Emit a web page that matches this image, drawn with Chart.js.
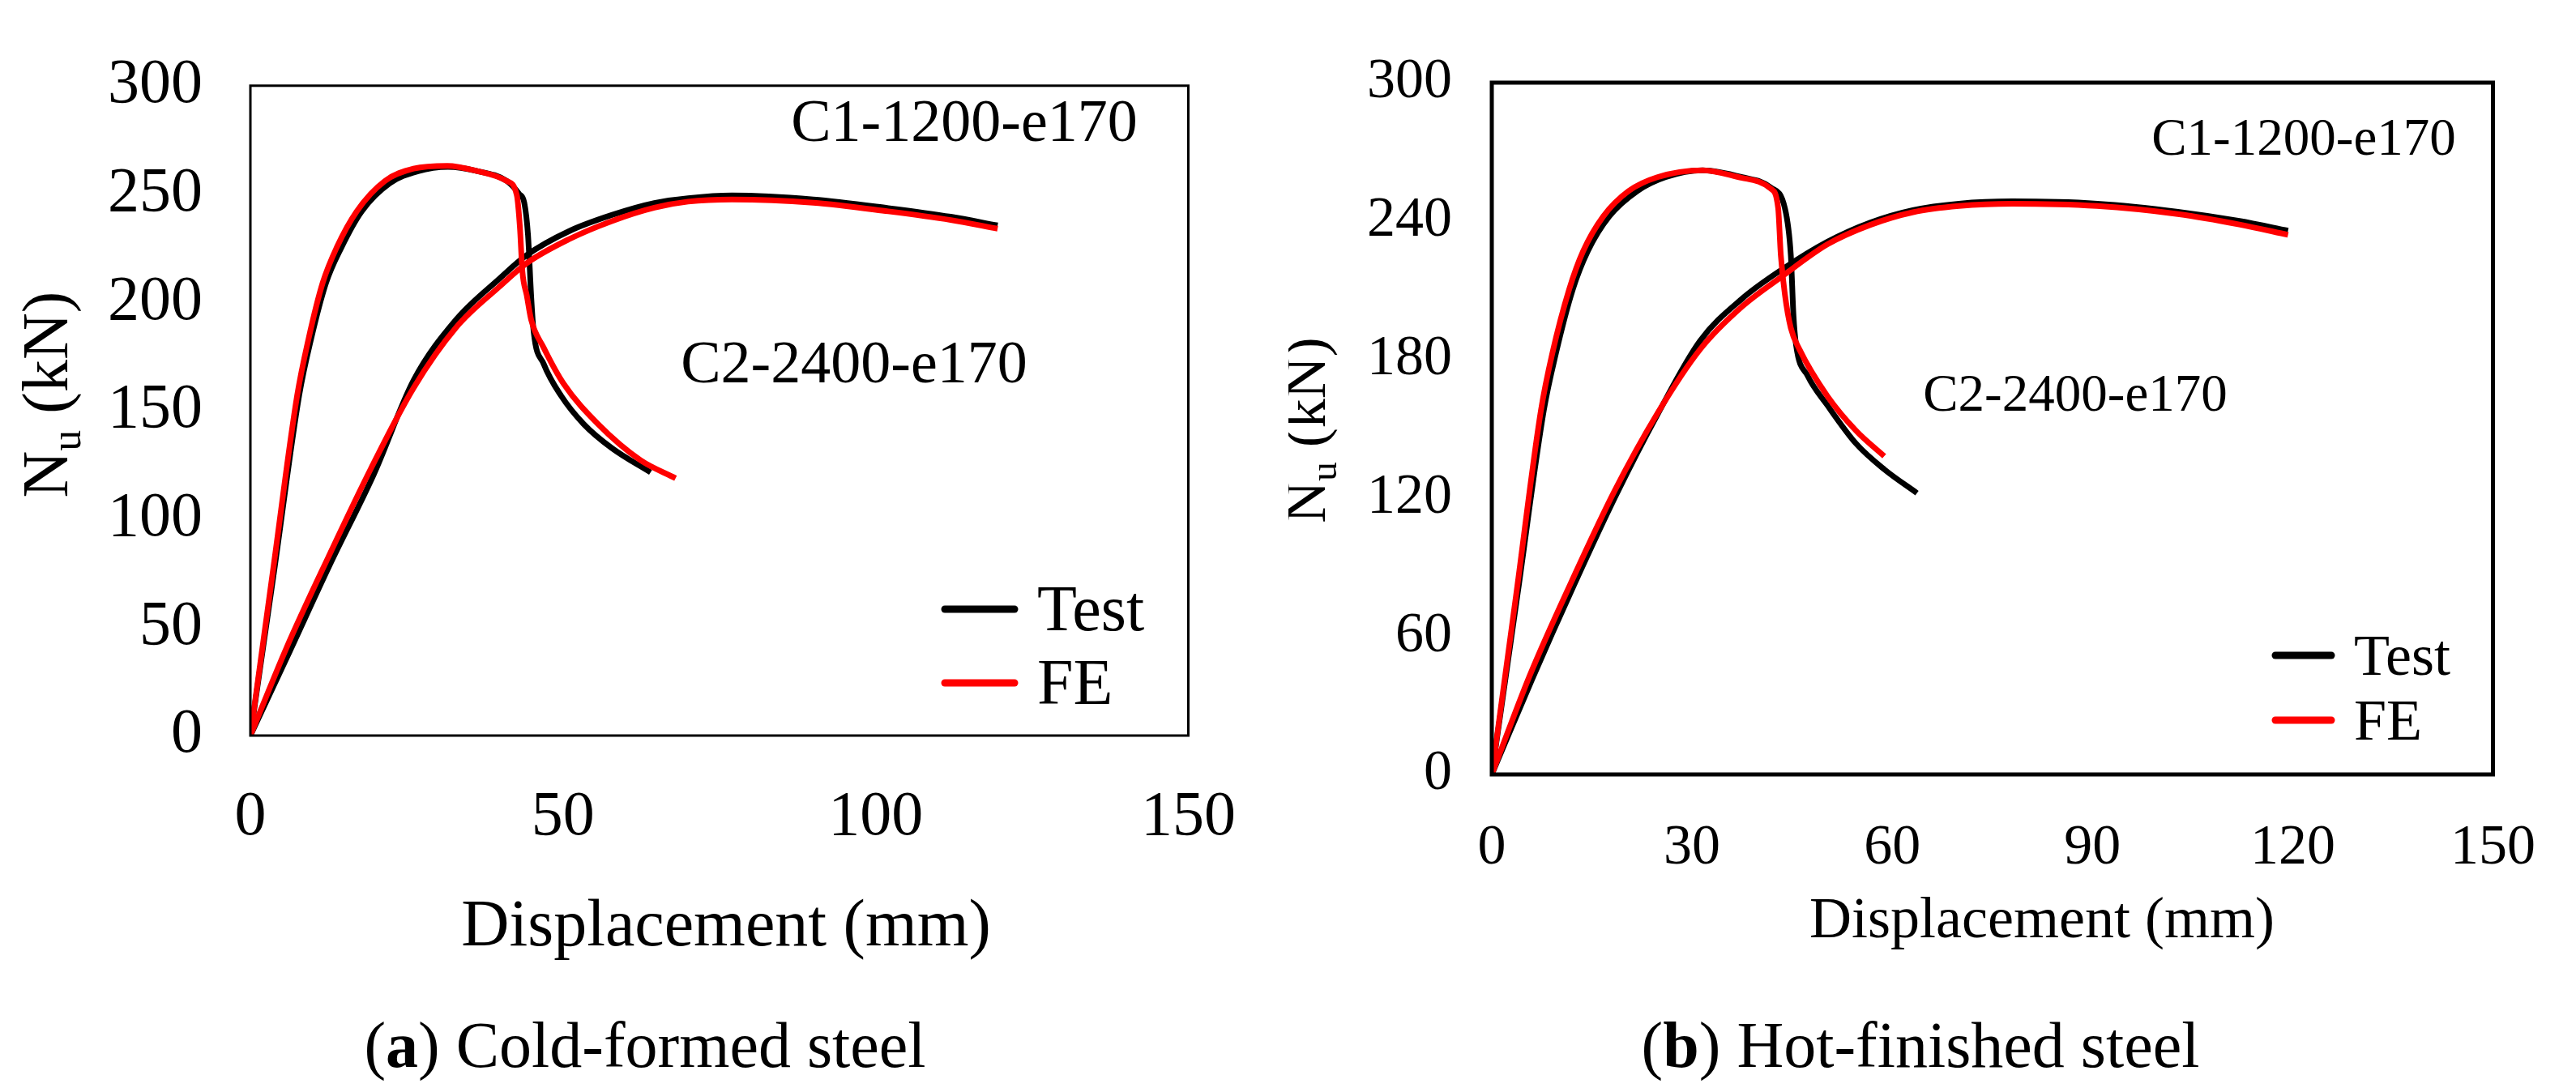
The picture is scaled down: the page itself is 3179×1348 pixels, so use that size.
<!DOCTYPE html>
<html>
<head>
<meta charset="utf-8">
<title>Nu - displacement curves</title>
<script src="https://cdn.jsdelivr.net/npm/chart.js@4.4.1/dist/chart.umd.min.js"></script>
<style>
  html, body { margin: 0; padding: 0; background: #fff; }
  body { width: 3179px; height: 1348px; position: relative; overflow: hidden;
         font-family: "Liberation Serif", "Times New Roman", serif; color: #000; }
  canvas { position: absolute; top: 0; }
  #chartA { left: 0; }
  #chartB { left: 1590px; }
  .caption { position: absolute; top: 1240px; font-size: 80px; line-height: 100px;
             transform: translateX(-50%); white-space: nowrap; }
</style>
</head>
<body>
<canvas id="chartA" width="1580" height="1348"></canvas>
<canvas id="chartB" width="1589" height="1348"></canvas>
<div class="caption" style="left:796px">(<b>a</b>) Cold-formed steel</div>
<div class="caption" style="left:2370px">(<b>b</b>) Hot-finished steel</div>

<script>
// (a) cold-formed steel, displacement in mm, load in kN
const coldC1TestDisp = [0, 3.9, 7.8, 9.7, 12.1, 14.5, 17.8, 22.3, 26.8, 31.6, 36.1, 41.0, 43.0, 43.8, 44.4, 44.9, 45.3, 46.9, 49.7, 53.3, 57.8, 64.0];
const coldC1TestLoad = [0, 78, 157, 183, 209, 225, 242, 255, 260.5, 262.5, 260.7, 256, 250, 246, 231, 203, 186.5, 171.6, 156.8, 143.8, 132.7, 121.5];
const coldC1FeDisp = [0, 3.7, 7.48, 9.29, 11.56, 13.83, 17.0, 21.5, 26.1, 31.5, 36.1, 41.0, 42.6, 43.1, 43.5, 44.2, 44.9, 46.9, 50.1, 55.6, 62.4, 68.0];
const coldC1FeLoad = [0, 78, 157, 183, 209, 225.5, 242, 256, 261.7, 263, 260.7, 256, 249.6, 234.8, 214.3, 203.2, 192, 179.1, 162.4, 143.8, 127.1, 118.8];
const coldC2TestDisp = [0, 6.0, 12.9, 19.8, 26.1, 32.9, 39.7, 44.2, 51.0, 57.8, 64.6, 70.0, 77.0, 90.0, 102.0, 112.0, 119.5];
const coldC2TestLoad = [0, 37, 80, 121, 164, 192, 210.6, 221.8, 232.9, 240.3, 245.8, 248, 249.3, 247.5, 243.5, 239.5, 235.5];
const coldC2FeDisp = [0, 5.7, 12.5, 19.3, 26.1, 32.9, 39.7, 44.2, 51.0, 57.8, 64.6, 70.0, 77.0, 90.0, 102.0, 112.0, 119.5];
const coldC2FeLoad = [0, 40, 82.6, 123.4, 160.5, 188.4, 206.9, 218.1, 229.2, 237.5, 243.7, 246.5, 247.5, 246, 242, 238, 234];

// (b) hot-finished steel
const hotC1TestDisp = [0, 3.9, 7.8, 9.6, 12.1, 14.4, 17.6, 21.8, 26.0, 31.6, 37.5, 41.8, 43.9, 44.8, 45.2, 45.6, 47.3, 50.3, 54.6, 58.8, 63.7];
const hotC1TestLoad = [0, 79, 158, 182.5, 210, 227, 242, 253, 259, 262, 259, 254.5, 245.7, 225.3, 199, 186, 173, 160, 143.4, 132.3, 122];
const hotC1FeDisp = [0, 3.7, 7.37, 9.06, 11.6, 13.7, 16.7, 20.5, 24.8, 31.6, 37.5, 41.8, 42.9, 43.3, 43.9, 44.8, 46.1, 50.3, 54.6, 58.8];
const hotC1FeLoad = [0, 79, 158, 182.5, 210.4, 227, 242, 253, 259, 262, 258.7, 254, 245.7, 225.3, 208.5, 193.6, 184.3, 164, 149, 138];
const hotC2TestDisp = [0, 6.0, 12.3, 18.6, 25.0, 31.2, 37.5, 43.5, 50.3, 56.7, 63.1, 70.0, 78.0, 90.7, 102.8, 112.0, 119.3];
const hotC2TestLoad = [0, 41, 82, 121, 157, 188, 206.3, 219, 231, 239.3, 244.7, 247.5, 248.5, 247.5, 244, 240, 235.8];
const hotC2FeDisp = [0, 5.7, 12.0, 18.4, 24.8, 31.2, 37.5, 43.5, 50.3, 56.7, 63.1, 70.0, 78.0, 90.7, 102.8, 112.0, 119.3];
const hotC2FeLoad = [0, 43, 84, 123, 156.5, 184.3, 202.9, 216, 229.9, 238.3, 243.8, 246.5, 247.5, 246.5, 243, 238.5, 234];

// tick labels
const coldXTicks = [0, 50, 100, 150];
const coldYTicks = [0, 50, 100, 150, 200, 250, 300];
const hotXTicks = [0, 30, 60, 90, 120, 150];
const hotYTicks = [0, 60, 120, 180, 240, 300];

const seriesNames = ['Test', 'FE'];
const specimenNames = ['C1-1200-e170', 'C2-2400-e170'];

const SERIF = '"Liberation Serif", "Times New Roman", serif';
const TEST_COLOR = '#000000';
const FE_COLOR = '#ff0000';

function pairs(xs, ys) {
  return xs.map((x, i) => ({ x: x, y: ys[i] }));
}

function line(data, color, order) {
  return {
    data: data,
    borderColor: color,
    backgroundColor: color,
    borderWidth: 7,
    pointRadius: 0,
    showLine: true,
    fill: false,
    cubicInterpolationMode: 'monotone',
    order: order
  };
}

// frame, y title with subscript, x title, specimen labels and legend
const panelDecor = {
  id: 'panelDecor',
  afterDatasetsDraw(chart, args, o) {
    const ctx = chart.ctx;
    const a = chart.chartArea;
    ctx.save();

    ctx.lineWidth = o.frameWidth;
    ctx.strokeStyle = '#000';
    ctx.strokeRect(a.left, a.top, a.right - a.left, a.bottom - a.top);

    ctx.fillStyle = '#000';
    ctx.textBaseline = 'alphabetic';

    // y axis title N_u (kN), rotated
    const f = o.yTitle.size;
    const big = f + 'px ' + SERIF;
    const small = Math.round(f * 0.65) + 'px ' + SERIF;
    ctx.font = big;
    const wN = ctx.measureText('N').width;
    const wRest = ctx.measureText(' (kN)').width;
    ctx.font = small;
    const wu = ctx.measureText('u').width;
    ctx.save();
    ctx.translate(o.yTitle.x, o.yTitle.y);
    ctx.rotate(-Math.PI / 2);
    let tx = -(wN + wu + wRest) / 2;
    ctx.font = big;
    ctx.textAlign = 'left';
    ctx.fillText('N', tx, 0);
    tx += wN;
    ctx.font = small;
    ctx.fillText('u', tx, f * 0.2);
    tx += wu;
    ctx.font = big;
    ctx.fillText(' (kN)', tx, 0);
    ctx.restore();

    // x axis title
    ctx.textAlign = 'center';
    ctx.font = o.xTitle.size + 'px ' + SERIF;
    ctx.fillText('Displacement (mm)', o.xTitle.x, o.xTitle.y + o.xTitle.size * 0.331);

    // specimen labels
    ctx.font = o.labels.size + 'px ' + SERIF;
    o.labels.pos.forEach((p, i) => {
      ctx.fillText(specimenNames[i], p[0], p[1] + o.labels.size * 0.331);
    });

    // legend
    const lg = o.legend;
    const colors = [TEST_COLOR, FE_COLOR];
    ctx.font = lg.size + 'px ' + SERIF;
    ctx.textAlign = 'left';
    ctx.lineCap = 'round';
    seriesNames.forEach((name, i) => {
      const y = lg.rows[i];
      ctx.beginPath();
      ctx.strokeStyle = colors[i];
      ctx.lineWidth = 9;
      ctx.moveTo(lg.x1, y);
      ctx.lineTo(lg.x2, y);
      ctx.stroke();
      ctx.fillText(name, lg.textX, y + lg.size * 0.331);
    });

    ctx.restore();
  }
};

function makeChart(id, sets, p) {
  return new Chart(document.getElementById(id), {
    type: 'scatter',
    data: {
      datasets: [
        line(pairs(sets[0], sets[1]), TEST_COLOR, 1),
        line(pairs(sets[2], sets[3]), FE_COLOR, 0),
        line(pairs(sets[4], sets[5]), TEST_COLOR, 1),
        line(pairs(sets[6], sets[7]), FE_COLOR, 0)
      ]
    },
    options: {
      responsive: false,
      animation: false,
      devicePixelRatio: 1,
      layout: { padding: { top: p.top, right: p.right, left: 0, bottom: 0 } },
      plugins: {
        legend: { display: false },
        tooltip: { enabled: false },
        panelDecor: p.decor
      },
      scales: {
        x: {
          type: 'linear',
          min: 0,
          max: 150,
          afterBuildTicks: (s) => { s.ticks = p.xTicks.map(v => ({ value: v })); },
          afterFit: (s) => { s.height = 1348 - p.bottom; },
          grid: { display: false, drawTicks: false },
          border: { display: false },
          ticks: { color: '#000', padding: p.xPad, maxRotation: 0,
                   font: { family: SERIF, size: p.tickSize } }
        },
        y: {
          type: 'linear',
          min: 0,
          max: 300,
          afterBuildTicks: (s) => { s.ticks = p.yTicks.map(v => ({ value: v })); },
          afterFit: (s) => { s.width = p.left; },
          grid: { display: false, drawTicks: false },
          border: { display: false },
          ticks: { color: '#000', padding: p.yPad,
                   font: { family: SERIF, size: p.tickSize } }
        }
      }
    },
    plugins: [panelDecor]
  });
}

makeChart('chartA',
  [coldC1TestDisp, coldC1TestLoad, coldC1FeDisp, coldC1FeLoad,
   coldC2TestDisp, coldC2TestLoad, coldC2FeDisp, coldC2FeLoad],
  {
    top: 62, right: 90, left: 309, bottom: 908,
    xTicks: coldXTicks, yTicks: coldYTicks,
    tickSize: 78, xPad: 55, yPad: 59,
    decor: {
      frameWidth: 3,
      yTitle: { x: 83, y: 487, size: 80 },
      xTitle: { x: 896, y: 1140, size: 82 },
      labels: { size: 74, pos: [[1190, 150], [1054, 448]] },
      legend: { size: 80, x1: 1166, x2: 1252, textX: 1280, rows: [752, 843] }
    }
  });

makeChart('chartB',
  [hotC1TestDisp, hotC1TestLoad, hotC1FeDisp, hotC1FeLoad,
   hotC2TestDisp, hotC2TestLoad, hotC2FeDisp, hotC2FeLoad],
  {
    top: 102, right: 78, left: 251, bottom: 956,
    xTicks: hotXTicks, yTicks: hotYTicks,
    tickSize: 70, xPad: 50, yPad: 49,
    decor: {
      frameWidth: 5,
      yTitle: { x: 45, y: 531, size: 72 },
      xTitle: { x: 930, y: 1133, size: 72 },
      labels: { size: 65, pos: [[1253, 169], [971, 485]] },
      legend: { size: 72, x1: 1218, x2: 1287, textX: 1315, rows: [809, 889] }
    }
  });
</script>
</body>
</html>
